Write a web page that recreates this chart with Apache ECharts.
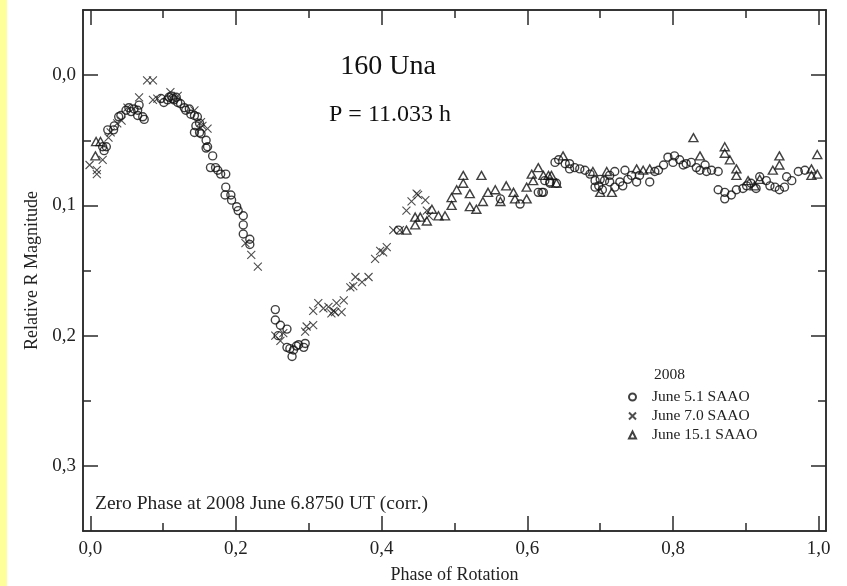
<!DOCTYPE html>
<html>
<head>
<meta charset="utf-8">
<script src="https://cdn.jsdelivr.net/npm/echarts@6/dist/echarts.min.js"></script>
<style>
html,body{margin:0;padding:0;background:#fff;}
#wrap{position:relative;width:847px;height:586px;background:#fff;}
#strip{position:absolute;left:0;top:0;width:7px;height:586px;background:#ffff99;}
#chart{position:absolute;left:0;top:0;width:847px;height:586px;}
</style>
</head>
<body>
<div id="wrap"><div id="strip"></div><div id="chart"></div></div>
<script>
// ---- data: [phase, relative R magnitude] ----
const june51 = [
  [0.017,0.055],[0.022,0.055],[0.019,0.058],
  [0.024,0.042],[0.032,0.042],[0.033,0.039],[0.039,0.032],[0.042,0.031],[0.049,0.027],[0.053,0.025],
  [0.056,0.028],[0.060,0.026],[0.065,0.027],[0.067,0.023],[0.065,0.031],[0.072,0.032],[0.074,0.034],
  [0.097,0.018],[0.101,0.021],[0.106,0.019],[0.108,0.017],[0.111,0.016],[0.113,0.018],[0.115,0.019],
  [0.118,0.017],[0.120,0.021],[0.124,0.022],[0.129,0.025],[0.131,0.027],[0.136,0.026],[0.138,0.030],
  [0.143,0.031],[0.147,0.032],[0.150,0.037],[0.145,0.039],[0.143,0.044],[0.150,0.044],[0.152,0.045],
  [0.159,0.050],[0.161,0.055],[0.159,0.056],[0.168,0.062],[0.165,0.071],[0.172,0.071],[0.175,0.073],
  [0.179,0.076],[0.186,0.076],[0.186,0.086],[0.185,0.092],[0.193,0.092],[0.194,0.096],[0.201,0.101],
  [0.203,0.104],[0.210,0.108],[0.210,0.115],[0.210,0.122],[0.219,0.126],[0.219,0.130],
  [0.254,0.180],[0.254,0.188],[0.261,0.192],[0.270,0.195],[0.258,0.200],[0.270,0.209],[0.274,0.210],
  [0.279,0.211],[0.277,0.216],[0.286,0.207],[0.295,0.206],[0.293,0.209],[0.283,0.208],
  [0.423,0.119],
  [0.563,0.095],[0.590,0.099],[0.615,0.090],[0.622,0.090],[0.631,0.083],[0.640,0.083],[0.652,0.068],
  [0.620,0.090],[0.624,0.081],[0.631,0.082],[0.638,0.067],[0.643,0.065],[0.658,0.068],[0.658,0.072],
  [0.665,0.071],[0.672,0.072],[0.679,0.073],[0.686,0.076],[0.693,0.081],[0.693,0.086],[0.700,0.080],
  [0.698,0.085],[0.703,0.088],[0.706,0.081],[0.713,0.077],[0.713,0.082],[0.720,0.074],[0.720,0.086],
  [0.727,0.082],[0.731,0.085],[0.734,0.073],[0.738,0.080],[0.743,0.077],[0.750,0.082],[0.754,0.077],
  [0.768,0.082],[0.775,0.074],[0.780,0.073],[0.787,0.069],[0.793,0.063],[0.802,0.062],[0.800,0.067],
  [0.809,0.065],[0.814,0.069],[0.818,0.068],[0.825,0.067],[0.832,0.071],[0.837,0.073],[0.844,0.069],
  [0.846,0.074],[0.853,0.073],[0.862,0.074],[0.862,0.088],[0.871,0.090],[0.871,0.095],[0.880,0.092],
  [0.887,0.088],[0.896,0.087],[0.901,0.085],[0.907,0.083],[0.914,0.087],[0.919,0.078],[0.928,0.081],
  [0.933,0.085],[0.940,0.086],[0.946,0.088],[0.953,0.086],[0.956,0.078],[0.963,0.081],[0.972,0.074],
  [0.981,0.073]
];
const june70 = [
  [-0.001,0.069],[0.009,0.073],[0.009,0.076],[0.017,0.065],[0.025,0.048],[0.028,0.044],[0.037,0.037],
  [0.043,0.035],[0.051,0.025],[0.067,0.017],[0.078,0.004],[0.086,0.004],[0.086,0.019],[0.092,0.018],
  [0.110,0.013],[0.120,0.016],[0.143,0.027],[0.152,0.036],[0.154,0.039],[0.161,0.041],
  [0.213,0.129],[0.221,0.138],[0.230,0.147],
  [0.254,0.200],[0.261,0.204],[0.265,0.198],[0.297,0.193],[0.295,0.197],[0.306,0.192],[0.306,0.181],
  [0.313,0.175],[0.320,0.179],[0.327,0.178],[0.331,0.183],[0.338,0.175],[0.334,0.181],[0.336,0.182],
  [0.345,0.182],[0.348,0.173],[0.357,0.163],[0.364,0.155],[0.373,0.159],[0.382,0.155],[0.361,0.162],
  [0.391,0.141],[0.398,0.135],[0.407,0.132],[0.402,0.136],[0.416,0.119],[0.425,0.119],[0.434,0.104],
  [0.441,0.097],[0.448,0.091],[0.450,0.092],[0.460,0.096],[0.462,0.104],[0.465,0.108]
];
const june151 = [
  [0.008,0.051],[0.014,0.051],[0.007,0.062],
  [0.434,0.119],[0.446,0.115],[0.446,0.109],[0.453,0.109],[0.462,0.112],[0.469,0.103],[0.478,0.108],
  [0.487,0.108],[0.496,0.100],[0.496,0.094],[0.503,0.088],[0.512,0.083],[0.512,0.077],[0.521,0.091],
  [0.521,0.101],[0.530,0.103],[0.537,0.077],[0.539,0.097],[0.546,0.090],[0.556,0.088],[0.563,0.097],
  [0.571,0.085],[0.581,0.090],[0.583,0.095],[0.599,0.095],[0.599,0.086],[0.608,0.081],[0.606,0.076],
  [0.615,0.071],[0.622,0.077],[0.629,0.077],[0.633,0.077],[0.640,0.083],[0.649,0.062],[0.690,0.074],
  [0.700,0.090],[0.716,0.090],[0.709,0.074],[0.750,0.072],[0.759,0.073],[0.768,0.072],[0.828,0.048],
  [0.837,0.062],[0.871,0.055],[0.871,0.060],[0.878,0.065],[0.887,0.072],[0.887,0.077],[0.903,0.081],
  [0.912,0.085],[0.919,0.080],[0.946,0.062],[0.946,0.069],[0.937,0.073],[0.990,0.072],[0.990,0.077],
  [0.998,0.061],[0.998,0.076]
];
const seriesNames = ['June 5.1 SAAO', 'June 7.0 SAAO', 'June 15.1 SAAO'];
const xMajorTicks = [0, 0.2, 0.4, 0.6, 0.8, 1.0];
const xMinorTicks = [0.1, 0.3, 0.5, 0.7, 0.9];
const yMajorTicks = [0, 0.1, 0.2, 0.3];
const yMinorTicks = [0.05, 0.15, 0.25];
const titleText = '160 Una';
const periodText = 'P = 11.033 h';
const legendTitle = '2008';
const noteText = 'Zero Phase at 2008 June 6.8750 UT (corr.)';

const FONT = '"Liberation Serif", "Times New Roman", serif';
const LINE = '#2a2a2a';
const fmt = v => v.toFixed(1).replace('.', ',');

const X_MIN = -0.01, X_MAX = 1.01, Y_MIN = -0.05, Y_MAX = 0.35;

function xAx(pos, ticks, len, opts) {
  return Object.assign({
    type: 'value', position: pos, min: X_MIN, max: X_MAX,
    axisLine: {show: true, onZero: false, lineStyle: {color: LINE, width: 1.5}},
    axisTick: {show: true, inside: true, length: len, customValues: ticks, lineStyle: {color: LINE, width: 1.5}},
    axisLabel: {show: false},
    splitLine: {show: false}
  }, opts || {});
}
function yAx(pos, ticks, len, opts) {
  return Object.assign({
    type: 'value', position: pos, min: Y_MIN, max: Y_MAX, inverse: true,
    axisLine: {show: true, onZero: false, lineStyle: {color: LINE, width: 1.5}},
    axisTick: {show: true, inside: true, length: len, customValues: ticks, lineStyle: {color: LINE, width: 1.5}},
    axisLabel: {show: false},
    splitLine: {show: false}
  }, opts || {});
}

const chart = echarts.init(document.getElementById('chart'), null, {renderer: 'canvas'});
const markerStyle = {color: 'rgba(0,0,0,0)', borderColor: '#111', borderWidth: 1.4};
chart.setOption({
  backgroundColor: 'transparent',
  animation: false,
  grid: {left: 83, right: 21, top: 10, bottom: 55, containLabel: false, outerBoundsMode: 'none'},
  xAxis: [
    xAx('bottom', xMajorTicks, 15, {
      axisLabel: {show: true, customValues: xMajorTicks, formatter: fmt, margin: 9,
        fontFamily: FONT, fontSize: 19, color: '#222'},
      name: 'Phase of Rotation', nameLocation: 'middle', nameGap: 35,
      nameTextStyle: {fontFamily: FONT, fontSize: 18, color: '#222', verticalAlign: 'top'}
    }),
    xAx('bottom', xMinorTicks, 8),
    xAx('top', xMajorTicks, 15),
    xAx('top', xMinorTicks, 8)
  ],
  yAxis: [
    yAx('left', yMajorTicks, 15, {
      axisLabel: {show: true, customValues: yMajorTicks, formatter: fmt, margin: 7,
        fontFamily: FONT, fontSize: 19, color: '#222'},
      name: 'Relative R Magnitude', nameLocation: 'middle', nameGap: 40, nameRotate: 90,
      nameTextStyle: {fontFamily: FONT, fontSize: 18, color: '#222'}
    }),
    yAx('left', yMinorTicks, 8),
    yAx('right', yMajorTicks, 15),
    yAx('right', yMinorTicks, 8)
  ],
  legend: {
    orient: 'vertical', left: 623, top: 384, itemWidth: 7, itemHeight: 7, itemGap: 3,
    data: seriesNames,
    textStyle: {fontFamily: FONT, fontSize: 15.5, color: '#222', padding: [0, 0, 0, 11]},
    selectedMode: false
  },
  graphic: [
    {type: 'text', style: {text: titleText, x: 388, y: 67, align: 'center', verticalAlign: 'middle',
      font: '28px ' + FONT, fill: '#111'}},
    {type: 'text', style: {text: periodText, x: 329, y: 114.5, align: 'left', verticalAlign: 'middle',
      font: '24px ' + FONT, fill: '#111'}},
    {type: 'text', style: {text: legendTitle, x: 654, y: 375, align: 'left', verticalAlign: 'middle',
      font: '15.5px ' + FONT, fill: '#222'}},
    {type: 'text', style: {text: noteText, x: 95, y: 503.5, align: 'left', verticalAlign: 'middle',
      font: '19.5px ' + FONT, fill: '#222'}}
  ],
  series: [
    {name: seriesNames[0], type: 'scatter', data: june51, symbol: 'circle', symbolSize: 8,
      itemStyle: markerStyle, xAxisIndex: 0, yAxisIndex: 0},
    {name: seriesNames[1], type: 'scatter', data: june70, symbol: 'path://M0,0L10,10M10,0L0,10', symbolSize: 8,
      itemStyle: {color: 'rgba(0,0,0,0)', borderColor: '#222', borderWidth: 1.1}, xAxisIndex: 0, yAxisIndex: 0},
    {name: seriesNames[2], type: 'scatter', data: june151, symbol: 'triangle', symbolSize: [9, 8],
      itemStyle: markerStyle, xAxisIndex: 0, yAxisIndex: 0}
  ]
});
</script>
</body>
</html>
